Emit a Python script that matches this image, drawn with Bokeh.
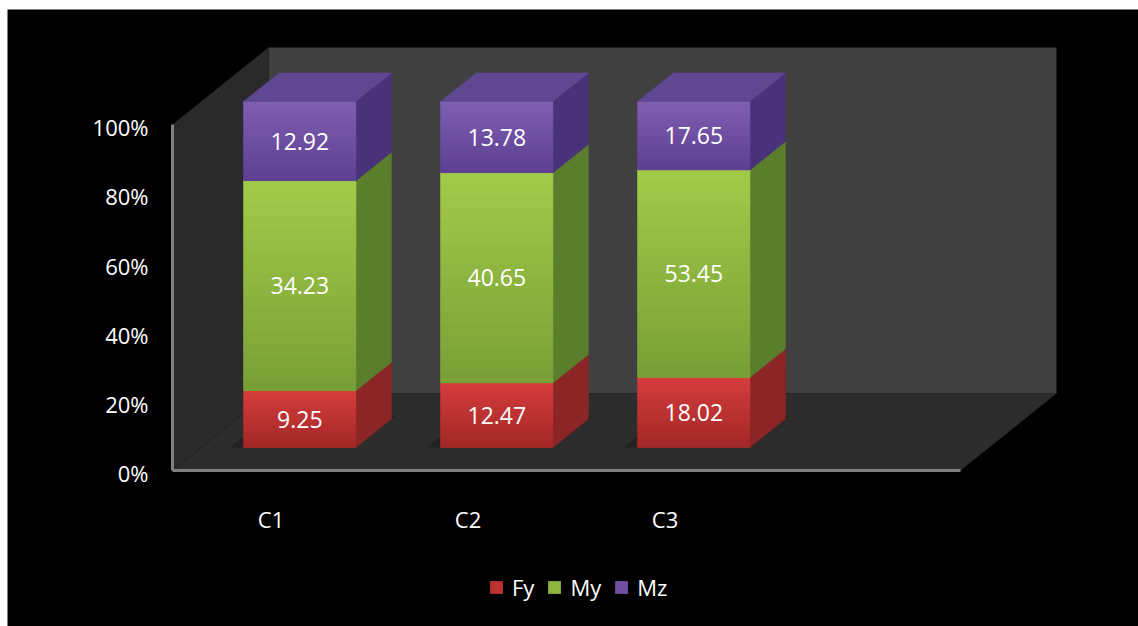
import numpy as np
from bokeh.plotting import figure
from bokeh.models import Range1d, Legend, LegendItem
from bokeh.core.properties import value
from bokeh.embed import file_html
from bokeh.resources import INLINE

# ---------------- data ----------------
categories = ["C1", "C2", "C3"]
series_names = ["Fy", "My", "Mz"]
fy = [9.25, 12.47, 18.02]
my = [34.23, 40.65, 53.45]
mz = [12.92, 13.78, 17.65]
y_ticks = [0, 20, 40, 60, 80, 100]
y_tick_labels = ["0%", "20%", "40%", "60%", "80%", "100%"]

# ---------------- styles / layout ----------------
FONT = "Open Sans"
front_top = ["#d63d3d", "#a3cb4a", "#7f5fb2"]
front_bot = ["#a22727", "#789f36", "#5d3f92"]
side_col = ["#8c2525", "#5a7e2b", "#4a327a"]
top_col = "#5f4791"
BACK_WALL = "#404040"
SIDE_WALL = "#2a2a2a"
FLOOR = "#2c2c2c"
AXIS_LINE = "#808080"

W, H = 1138, 626
BORDER_L, BORDER_T = 7, 9
PX_SLOT = 197.0          # pixels per category slot on the front plane
PX_PCT = 3.46            # pixels per percent on the front plane
ORIGIN = (172.0, 470.0)  # page pixel of (slot 0, 0%) on front plane
N_SLOTS = 4
DEPTH_DX = 96.0 / PX_SLOT   # full depth offset in data units
DEPTH_DY = 77.0 / PX_PCT
BAR_W = 0.57
D_FRONT, D_BACK = 0.30, 0.67
N_STRIPS = 18


def proj(x, y, d):
    return x + d * DEPTH_DX, y + d * DEPTH_DY


def hex2rgb(h):
    h = h.lstrip("#")
    return np.array([int(h[i:i + 2], 16) for i in (0, 2, 4)], dtype=float)


def mix(c1, c2, t):
    a, b = hex2rgb(c1), hex2rgb(c2)
    c = a + (b - a) * t
    return "#%02x%02x%02x" % tuple(int(round(v)) for v in c)


p = figure(width=W - BORDER_L, height=H - BORDER_T, margin=(BORDER_T, 0, 0, BORDER_L),
           output_backend="svg", toolbar_location=None,
           x_range=Range1d((BORDER_L - ORIGIN[0]) / PX_SLOT, (W - ORIGIN[0]) / PX_SLOT),
           y_range=Range1d((ORIGIN[1] - H) / PX_PCT, (ORIGIN[1] - BORDER_T) / PX_PCT),
           x_axis_location=None, y_axis_location=None,
           min_border_left=0, min_border_top=0,
           min_border_right=0, min_border_bottom=0,
           background_fill_color="black", border_fill_color="black",
           outline_line_color=None)
p.xgrid.visible = False
p.ygrid.visible = False

# ---------------- walls / floor ----------------
def poly(pts):
    xs, ys = zip(*[proj(*q) for q in pts])
    return list(xs), list(ys)

bx, by = poly([(0, 0, 1), (N_SLOTS, 0, 1), (N_SLOTS, 100, 1), (0, 100, 1)])
p.patch(bx, by, fill_color=BACK_WALL, line_color=None)
lx, ly = poly([(0, 0, 0), (0, 100, 0), (0, 100, 1), (0, 0, 1)])
p.patch(lx, ly, fill_color=SIDE_WALL, line_color=None)
fx, fyy = poly([(0, 0, 0), (N_SLOTS, 0, 0), (N_SLOTS, 0, 1), (0, 0, 1)])
p.patch(fx, fyy, fill_color=FLOOR, line_color=None)

# ---------------- bars ----------------
vals = np.array([fy, my, mz], dtype=float)
share = vals / vals.sum(axis=0) * 100.0
cum = np.vstack([np.zeros(len(categories)), np.cumsum(share, axis=0)])

# soft shadows on floor
sh_xs, sh_ys = [], []
for i in range(len(categories)):
    c = i + 0.5
    xs, ys = poly([(c - BAR_W / 2 - 0.07, 0, D_FRONT), (c + BAR_W / 2, 0, D_FRONT),
                   (c + BAR_W / 2, 0, D_BACK + 0.04), (c - BAR_W / 2 - 0.07, 0, D_BACK + 0.04)])
    sh_xs.append(xs); sh_ys.append(ys)
p.patches(sh_xs, sh_ys, fill_color="#141414", fill_alpha=0.45, line_color=None)

legend_renderers = []
label_x, label_y, label_t = [], [], []
for s in range(len(series_names)):
    # side faces
    sx, sy = [], []
    for i in range(len(categories)):
        c = i + 0.5
        lo, hi = cum[s, i], cum[s + 1, i]
        xs, ys = poly([(c + BAR_W / 2, lo, D_FRONT), (c + BAR_W / 2, lo, D_BACK),
                       (c + BAR_W / 2, hi, D_BACK), (c + BAR_W / 2, hi, D_FRONT)])
        sx.append(xs); sy.append(ys)
    p.patches(sx, sy, fill_color=side_col[s], line_color=side_col[s], line_width=0.5)

    # flat front face (used by legend)
    left = [proj(i + 0.5 - BAR_W / 2, 0, D_FRONT)[0] for i in range(len(categories))]
    right = [proj(i + 0.5 + BAR_W / 2, 0, D_FRONT)[0] for i in range(len(categories))]
    bot = [proj(0, cum[s, i], D_FRONT)[1] for i in range(len(categories))]
    top = [proj(0, cum[s + 1, i], D_FRONT)[1] for i in range(len(categories))]
    r = p.quad(left=left, right=right, bottom=bot, top=top,
               fill_color=mix(front_bot[s], front_top[s], 0.5), line_color=None)
    legend_renderers.append(r)

    # gradient strips
    gl, gr, gb, gt, gc = [], [], [], [], []
    for i in range(len(categories)):
        for j in range(N_STRIPS):
            t0, t1 = j / N_STRIPS, (j + 1) / N_STRIPS
            gl.append(left[i]); gr.append(right[i])
            gb.append(bot[i] + (top[i] - bot[i]) * t0)
            gt.append(bot[i] + (top[i] - bot[i]) * t1)
            gc.append(mix(front_bot[s], front_top[s], (j + 0.5) / N_STRIPS))
    p.quad(left=gl, right=gr, bottom=gb, top=gt, fill_color=gc, line_color=gc,
           line_width=0.6)

    for i in range(len(categories)):
        cx, cy = proj(i + 0.5, (cum[s, i] + cum[s + 1, i]) / 2, D_FRONT)
        label_x.append(cx); label_y.append(cy); label_t.append("%.2f" % vals[s, i])

# top faces
tx, ty = [], []
for i in range(len(categories)):
    c = i + 0.5
    xs, ys = poly([(c - BAR_W / 2, 100, D_FRONT), (c + BAR_W / 2, 100, D_FRONT),
                   (c + BAR_W / 2, 100, D_BACK), (c - BAR_W / 2, 100, D_BACK)])
    tx.append(xs); ty.append(ys)
p.patches(tx, ty, fill_color=top_col, line_color=top_col, line_width=0.5)

# ---------------- axis lines ----------------
p.line([0, 0], [0, 100], line_color=AXIS_LINE, line_width=3)
p.line([0, N_SLOTS], [0, 0], line_color=AXIS_LINE, line_width=3)

# ---------------- texts ----------------
p.text(x=label_x, y=label_y, text=label_t, text_color="white",
       text_font=value(FONT), text_font_size="23px",
       text_align="center", text_baseline="middle")

p.text(x=[-24 / PX_SLOT] * len(y_ticks), y=[t - 0.8 for t in y_ticks], text=y_tick_labels,
       text_color="white", text_font=value(FONT), text_font_size="22px",
       text_align="right", text_baseline="middle")

p.text(x=[i + 0.5 for i in range(len(categories))], y=[-48 / PX_PCT] * len(categories),
       text=categories, text_color="white", text_font=value(FONT), text_font_size="22px",
       text_align="center", text_baseline="middle")

# ---------------- legend ----------------
legend = Legend(items=[LegendItem(label=n, renderers=[r]) for n, r in zip(series_names, legend_renderers)],
                orientation="horizontal", location=(481, 24),
                glyph_width=16, glyph_height=16, label_standoff=8, spacing=12,
                padding=0, margin=0, label_height=16,
                label_text_color="white", label_text_font=FONT, label_text_font_size="22px",
                background_fill_alpha=0, border_line_color=None)
p.add_layout(legend, "center")

open("out.html", "w").write(file_html(p, INLINE))
